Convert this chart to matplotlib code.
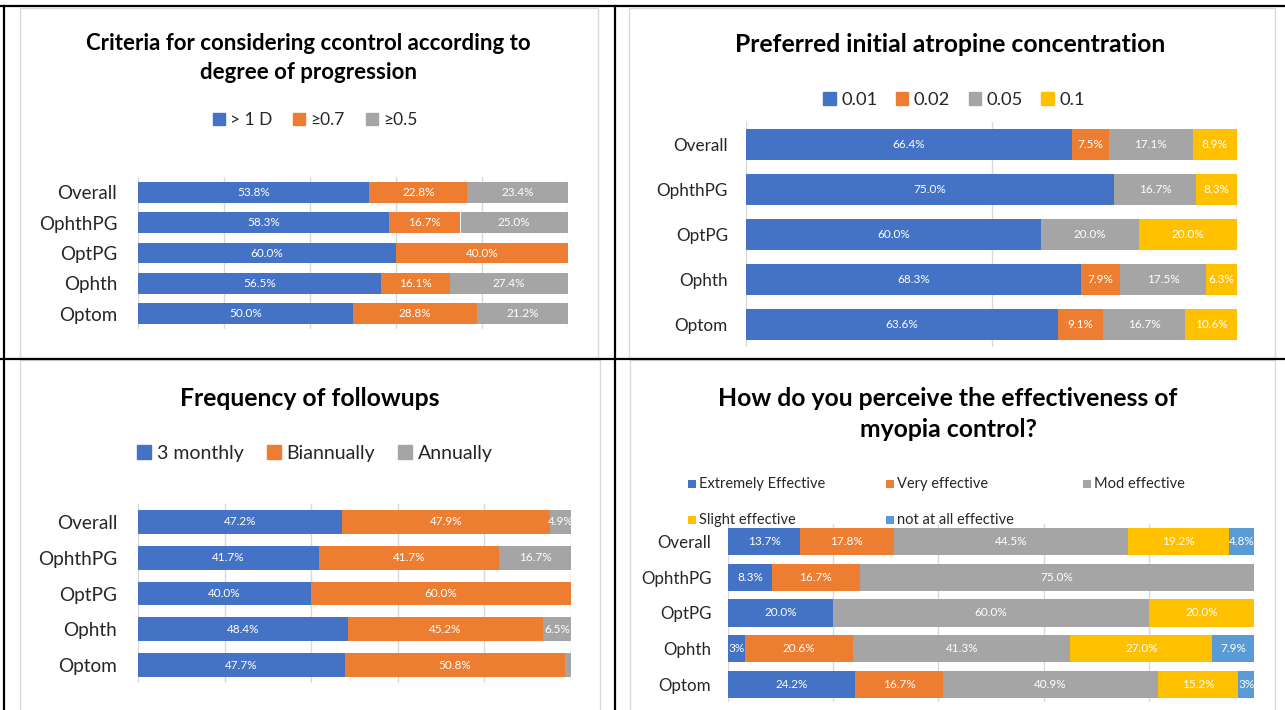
import matplotlib
matplotlib.use('Agg')
import matplotlib.pyplot as plt
from matplotlib.patches import Rectangle, Patch
from matplotlib.lines import Line2D

W, H = 1285, 710
plt.rcParams['font.family'] = ['Lato', 'DejaVu Sans']

cats = ['Overall', 'OphthPG', 'OptPG', 'Ophth', 'Optom']

# criteria for control according to degree of progression
crit_names = ['> 1 D', '\u22650.7', '\u22650.5']
crit_1d = [53.8, 58.3, 60.0, 56.5, 50.0]
crit_07 = [22.8, 16.7, 40.0, 16.1, 28.8]
crit_05 = [23.4, 25.0, 0, 27.4, 21.2]

# preferred initial atropine concentration
atro_names = ['0.01', '0.02', '0.05', '0.1']
atro_001 = [66.4, 75.0, 60.0, 68.3, 63.6]
atro_002 = [7.5, 0, 0, 7.9, 9.1]
atro_005 = [17.1, 16.7, 20.0, 17.5, 16.7]
atro_01 = [8.9, 8.3, 20.0, 6.3, 10.6]

# frequency of followups
fu_names = ['3 monthly', 'Biannually', 'Annually']
fu_3m = [47.2, 41.7, 40.0, 48.4, 47.7]
fu_bi = [47.9, 41.7, 60.0, 45.2, 50.8]
fu_an = [4.9, 16.7, 0, 6.5, 1.5]

# perceived effectiveness
eff_names = ['Extremely Effective', 'Very effective', 'Mod effective',
             'Slight effective', 'not at all effective']
eff_ext = [13.7, 8.3, 20.0, 3.2, 24.2]
eff_very = [17.8, 16.7, 0, 20.6, 16.7]
eff_mod = [44.5, 75.0, 60.0, 41.3, 40.9]
eff_slight = [19.2, 0, 20.0, 27.0, 15.2]
eff_none = [4.8, 0, 0, 7.9, 3.0]

BLUE, ORANGE, GRAY, YELLOW, LBLUE = '#4472C4', '#ED7D31', '#A5A5A5', '#FFC000', '#5B9BD5'
TXT = '#262626'


def rect(x0, y0, x1, y1):
    return [x0 / W, 1 - y1 / H, (x1 - x0) / W, (y1 - y0) / H]


def fx(x):
    return x / W


def fy(y):
    return 1 - y / H


def lab(v):
    if v < 2:
        return ''
    if v < 3.5:
        return '%.0f%%' % v
    return '%.1f%%' % v


def stacked(ax, series, colors, height, ticks, fs, pad, catfs):
    left = [0] * len(cats)
    for vals, c in zip(series, colors):
        bars = ax.barh(range(len(cats)), vals, left=left, height=height, color=c, zorder=2)
        ax.bar_label(bars, labels=[lab(v) for v in vals], label_type='center',
                     color='white', fontsize=fs)
        left = [a + b for a, b in zip(left, vals)]
    ax.set_xlim(0, 100)
    ax.set_ylim(len(cats) - 0.5, -0.5)
    ax.set_xticks(ticks)
    ax.set_yticks(range(len(cats)))
    ax.set_yticklabels(cats, fontsize=catfs, color=TXT)
    ax.tick_params(axis='x', length=0, labelbottom=False)
    ax.tick_params(axis='y', length=0, pad=pad)
    ax.grid(axis='x', color='#D9D9D9', lw=1, zorder=0)
    ax.set_axisbelow(True)
    for s in ax.spines.values():
        s.set_visible(False)


fig = plt.figure(figsize=(W / 100, H / 100), dpi=100)
fig.patch.set_facecolor('white')

# table lines
for y in [6, 359]:
    fig.add_artist(Line2D([0, 1], [fy(y), fy(y)], color='black', lw=1.6, transform=fig.transFigure))
for x in [4, 615]:
    fig.add_artist(Line2D([fx(x), fx(x)], [fy(6), 0], color='black', lw=1.6, transform=fig.transFigure))

# chart frames
for x0, y0, x1, y1 in [(20, 8, 598, 358), (629, 8, 1275, 358), (20, 360, 600, 712), (630, 360, 1275, 712)]:
    fig.add_artist(Rectangle((fx(x0), fy(y1)), (x1 - x0) / W, (y1 - y0) / H, transform=fig.transFigure,
                             facecolor='white', edgecolor='#D9D9D9', lw=1, zorder=0))

# top left
ax1 = fig.add_axes(rect(138, 177, 568, 329))
stacked(ax1, [crit_1d, crit_07, crit_05], [BLUE, ORANGE, GRAY], 0.69, range(0, 101, 20), 8.5, 15, 13.5)
fig.text(fx(308), fy(58), 'Criteria for considering ccontrol according to\ndegree of progression',
         ha='center', va='center', fontsize=16, fontweight='bold', linespacing=1.42)
fig.legend([Patch(color=c) for c in [BLUE, ORANGE, GRAY]], crit_names, loc='center',
           bbox_to_anchor=(fx(315), fy(120)), ncol=3, frameon=False, fontsize=12.5,
           handlelength=0.7, handleheight=0.7, handletextpad=0.3, columnspacing=1.2,
           labelcolor=TXT)

# top right
ax2 = fig.add_axes(rect(746, 122, 1237, 347))
stacked(ax2, [atro_001, atro_002, atro_005, atro_01], [BLUE, ORANGE, GRAY, YELLOW], 0.69,
        [0, 50, 100], 8.5, 13, 12.3)
fig.text(fx(950), fy(45), 'Preferred initial atropine concentration', ha='center', va='center',
         fontsize=17.8, fontweight='bold')
fig.legend([Patch(color=c) for c in [BLUE, ORANGE, GRAY, YELLOW]], atro_names, loc='center',
           bbox_to_anchor=(fx(954), fy(100)), ncol=4, frameon=False, fontsize=13.2,
           handlelength=0.7, handleheight=0.7, handletextpad=0.3, columnspacing=1.0,
           labelcolor=TXT)

# bottom left
ax3 = fig.add_axes(rect(138, 504, 571, 683))
stacked(ax3, [fu_3m, fu_bi, fu_an], [BLUE, ORANGE, GRAY], 0.67, range(0, 101, 20), 8.5, 15, 13.7)
fig.text(fx(310), fy(398), 'Frequency of followups', ha='center', va='center',
         fontsize=17.8, fontweight='bold')
fig.legend([Patch(color=c) for c in [BLUE, ORANGE, GRAY]], fu_names, loc='center',
           bbox_to_anchor=(fx(315), fy(453)), ncol=3, frameon=False, fontsize=14,
           handlelength=0.7, handleheight=0.7, handletextpad=0.3, columnspacing=1.2,
           labelcolor=TXT)

# bottom right
ax4 = fig.add_axes(rect(728, 524, 1254, 702))
stacked(ax4, [eff_ext, eff_very, eff_mod, eff_slight, eff_none], [BLUE, ORANGE, GRAY, YELLOW, LBLUE],
        0.76, range(0, 101, 20), 8.5, 12, 12.2)
fig.text(fx(948), fy(414), 'How do you perceive the effectiveness of\nmyopia control?',
         ha='center', va='center', fontsize=17.8, fontweight='bold', linespacing=1.42)
eff_cols = [BLUE, ORANGE, GRAY, YELLOW, LBLUE]
eff_pos = [(688, 484), (886, 484), (1083, 484), (688, 520), (886, 520)]
for name, c, (x, y) in zip(eff_names, eff_cols, eff_pos):
    fig.add_artist(Rectangle((fx(x), fy(y + 4)), 8 / W, 8 / H, transform=fig.transFigure,
                             facecolor=c, edgecolor='none'))
    fig.text(fx(x + 11), fy(y), name, ha='left', va='center', fontsize=10.5, color=TXT)

fig.savefig('out.png', dpi=100)
